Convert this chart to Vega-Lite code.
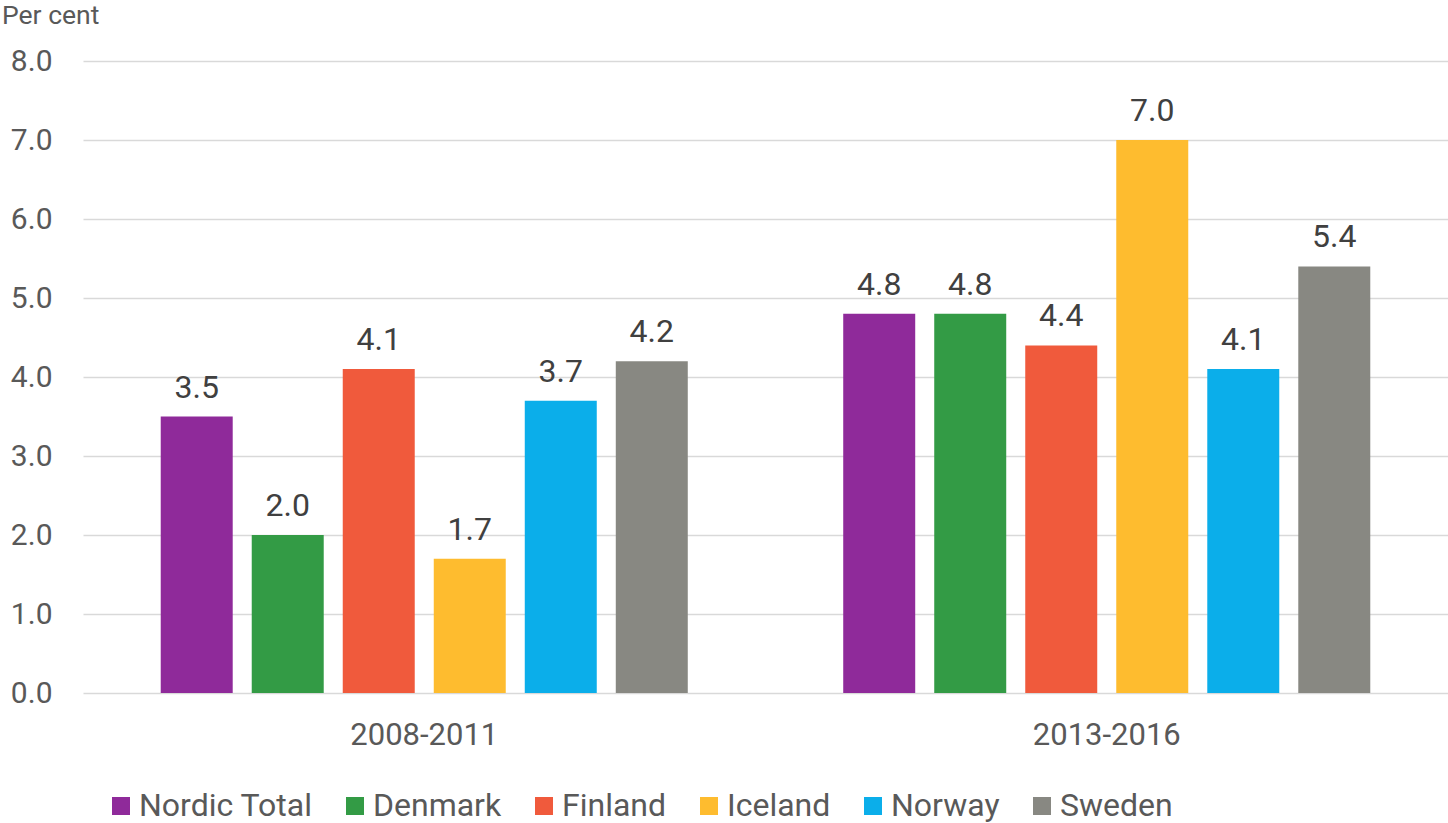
{
  "$schema": "https://vega.github.io/schema/vega-lite/v6.json",
  "autosize": "none",
  "width": 1365,
  "height": 632,
  "padding": {"left": 83, "top": 61, "right": 0, "bottom": 130},
  "background": "white",
  "config": {"font": "Roboto", "view": {"stroke": null}},
  "data": {
    "values": [
      {"Period": "2008-2011", "Country": "Nordic Total", "Value": 3.5},
      {"Period": "2008-2011", "Country": "Denmark", "Value": 2.0},
      {"Period": "2008-2011", "Country": "Finland", "Value": 4.1},
      {"Period": "2008-2011", "Country": "Iceland", "Value": 1.7},
      {"Period": "2008-2011", "Country": "Norway", "Value": 3.7},
      {"Period": "2008-2011", "Country": "Sweden", "Value": 4.2},
      {"Period": "2013-2016", "Country": "Nordic Total", "Value": 4.8},
      {"Period": "2013-2016", "Country": "Denmark", "Value": 4.8},
      {"Period": "2013-2016", "Country": "Finland", "Value": 4.4},
      {"Period": "2013-2016", "Country": "Iceland", "Value": 7.0},
      {"Period": "2013-2016", "Country": "Norway", "Value": 4.1},
      {"Period": "2013-2016", "Country": "Sweden", "Value": 5.4}
    ]
  },
  "encoding": {
    "x": {
      "field": "Period", "type": "nominal",
      "scale": {"paddingInner": 0, "paddingOuter": 0},
      "axis": {"title": null, "labelAngle": 0, "ticks": false, "tickSize": 0, "domain": false,
               "labelFontSize": 31, "labelColor": "#595959", "labelPadding": 51, "labelBaseline": "alphabetic"}
    },
    "xOffset": {
      "field": "Country", "type": "nominal",
      "sort": ["Nordic Total", "Denmark", "Finland", "Iceland", "Norway", "Sweden"],
      "scale": {"paddingInner": 0.209, "paddingOuter": 0.854}
    },
    "y": {
      "field": "Value", "type": "quantitative",
      "scale": {"domain": [0, 8], "nice": false},
      "axis": {
        "values": [0, 1, 2, 3, 4, 5, 6, 7, 8], "format": ".1f",
        "title": "Per cent", "titleAngle": 0, "titleX": -81.5, "titleY": -37.7,
        "titleAlign": "left", "titleBaseline": "alphabetic", "titleFontSize": 26.5,
        "titleFontWeight": "normal", "titleColor": "#595959",
        "labelFontSize": 30, "labelColor": "#595959", "labelPadding": 31,
        "ticks": false, "tickSize": 0, "domain": false,
        "gridColor": "#D9D9D9", "gridWidth": 1.5
      }
    }
  },
  "layer": [
    {
      "mark": {"type": "bar"},
      "encoding": {
        "color": {
          "field": "Country", "type": "nominal",
          "sort": ["Nordic Total", "Denmark", "Finland", "Iceland", "Norway", "Sweden"],
          "scale": {
            "domain": ["Nordic Total", "Denmark", "Finland", "Iceland", "Norway", "Sweden"],
            "range": ["#8F2A9A", "#339B45", "#F05A3C", "#FEBC2F", "#0BAEEA", "#888882"]
          },
          "legend": {
            "title": null, "orient": "none", "legendX": 22, "legendY": 729,
            "direction": "horizontal", "symbolType": "square", "symbolSize": 324,
            "symbolStrokeWidth": 0, "symbolOpacity": 1, "labelFontSize": 32, "labelColor": "#595959",
            "labelLimit": 400, "labelOffset": 2, "columnPadding": 26, "padding": 0
          }
        }
      }
    },
    {
      "mark": {"type": "text", "baseline": "alphabetic", "dy": -19, "fontSize": 32, "color": "#404040"},
      "encoding": {"text": {"field": "Value", "type": "quantitative", "format": ".1f"}}
    }
  ]
}
